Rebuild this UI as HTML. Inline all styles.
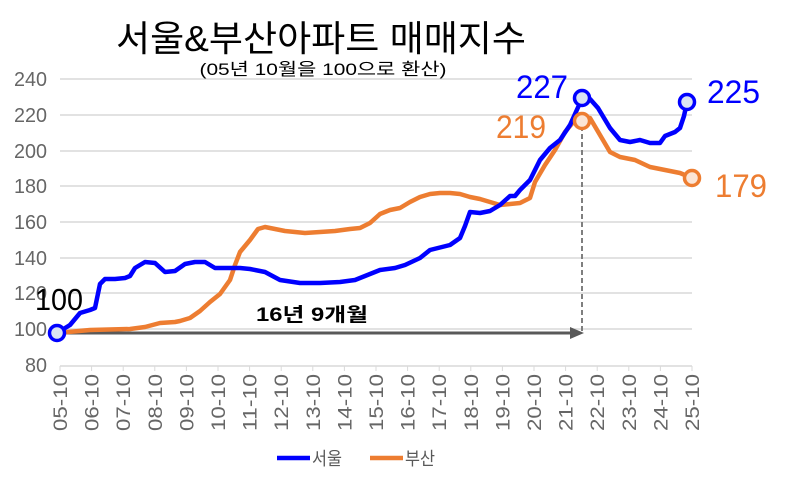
<!DOCTYPE html>
<html><head><meta charset="utf-8"><style>
html,body{margin:0;padding:0;background:#fff;}
svg{display:block;font-family:"Liberation Sans","Noto Sans CJK KR",sans-serif;}
</style></head><body>
<svg width="809" height="484" viewBox="0 0 809 484" xmlns="http://www.w3.org/2000/svg">
<g stroke="#d9d9d9" stroke-width="1.5">
<line x1="60" y1="79" x2="692" y2="79"/>
<line x1="60" y1="115" x2="692" y2="115"/>
<line x1="60" y1="151" x2="692" y2="151"/>
<line x1="60" y1="186" x2="692" y2="186"/>
<line x1="60" y1="222" x2="692" y2="222"/>
<line x1="60" y1="258" x2="692" y2="258"/>
<line x1="60" y1="293" x2="692" y2="293"/>
<line x1="60" y1="329" x2="692" y2="329"/>
<line x1="60" y1="366" x2="692" y2="366"/>
</g>
<g stroke="#d9d9d9" stroke-width="1">
<path d="M60 366v5M91.6 366v5M123.2 366v5M154.8 366v5M186.4 366v5M218 366v5M249.6 366v5M281.2 366v5M312.8 366v5M344.4 366v5M376 366v5M407.6 366v5M439.2 366v5M470.8 366v5M502.4 366v5M534 366v5M565.6 366v5M597.2 366v5M628.8 366v5M660.4 366v5M692 366v5"/>
</g>
<g fill="#666" font-size="20" text-anchor="end">
<text x="47" y="86" textLength="33" lengthAdjust="spacingAndGlyphs">240</text>
<text x="47" y="122" textLength="33" lengthAdjust="spacingAndGlyphs">220</text>
<text x="47" y="158" textLength="33" lengthAdjust="spacingAndGlyphs">200</text>
<text x="47" y="193" textLength="33" lengthAdjust="spacingAndGlyphs">180</text>
<text x="47" y="229" textLength="33" lengthAdjust="spacingAndGlyphs">160</text>
<text x="47" y="265" textLength="33" lengthAdjust="spacingAndGlyphs">140</text>
<text x="47" y="300" textLength="33" lengthAdjust="spacingAndGlyphs">120</text>
<text x="47" y="336" textLength="33" lengthAdjust="spacingAndGlyphs">100</text>
<text x="47" y="372" textLength="22" lengthAdjust="spacingAndGlyphs">80</text>
</g>
<g fill="#666" font-size="19" text-anchor="end">
<text transform="translate(67,374) rotate(-90)" textLength="57" lengthAdjust="spacingAndGlyphs">05-10</text>
<text transform="translate(98.6,374) rotate(-90)" textLength="57" lengthAdjust="spacingAndGlyphs">06-10</text>
<text transform="translate(130.2,374) rotate(-90)" textLength="57" lengthAdjust="spacingAndGlyphs">07-10</text>
<text transform="translate(161.8,374) rotate(-90)" textLength="57" lengthAdjust="spacingAndGlyphs">08-10</text>
<text transform="translate(193.4,374) rotate(-90)" textLength="57" lengthAdjust="spacingAndGlyphs">09-10</text>
<text transform="translate(225,374) rotate(-90)" textLength="57" lengthAdjust="spacingAndGlyphs">10-10</text>
<text transform="translate(256.6,374) rotate(-90)" textLength="57" lengthAdjust="spacingAndGlyphs">11-10</text>
<text transform="translate(288.2,374) rotate(-90)" textLength="57" lengthAdjust="spacingAndGlyphs">12-10</text>
<text transform="translate(319.8,374) rotate(-90)" textLength="57" lengthAdjust="spacingAndGlyphs">13-10</text>
<text transform="translate(351.4,374) rotate(-90)" textLength="57" lengthAdjust="spacingAndGlyphs">14-10</text>
<text transform="translate(383,374) rotate(-90)" textLength="57" lengthAdjust="spacingAndGlyphs">15-10</text>
<text transform="translate(414.6,374) rotate(-90)" textLength="57" lengthAdjust="spacingAndGlyphs">16-10</text>
<text transform="translate(446.2,374) rotate(-90)" textLength="57" lengthAdjust="spacingAndGlyphs">17-10</text>
<text transform="translate(477.8,374) rotate(-90)" textLength="57" lengthAdjust="spacingAndGlyphs">18-10</text>
<text transform="translate(509.4,374) rotate(-90)" textLength="57" lengthAdjust="spacingAndGlyphs">19-10</text>
<text transform="translate(541,374) rotate(-90)" textLength="57" lengthAdjust="spacingAndGlyphs">20-10</text>
<text transform="translate(572.6,374) rotate(-90)" textLength="57" lengthAdjust="spacingAndGlyphs">21-10</text>
<text transform="translate(604.2,374) rotate(-90)" textLength="57" lengthAdjust="spacingAndGlyphs">22-10</text>
<text transform="translate(635.8,374) rotate(-90)" textLength="57" lengthAdjust="spacingAndGlyphs">23-10</text>
<text transform="translate(667.4,374) rotate(-90)" textLength="57" lengthAdjust="spacingAndGlyphs">24-10</text>
<text transform="translate(699,374) rotate(-90)" textLength="57" lengthAdjust="spacingAndGlyphs">25-10</text>
</g>
<line x1="57" y1="333" x2="572" y2="333" stroke="#595959" stroke-width="3"/>
<polygon points="570,327 584,333 570,339" fill="#595959"/>
<line x1="582" y1="126" x2="582" y2="333" stroke="#7f7f7f" stroke-width="2" stroke-dasharray="5,3"/>
<polyline fill="none" stroke="#ed7d31" stroke-width="4.5" stroke-linejoin="round" points="57,333 90,330 130,329 145,327 160,323 175,322 180,321 190,318 200,311 210,302 220,294 230,280 235,265 240,252 250,240 258,229 265,227 275,229 285,231 295,232 305,233 320,232 335,231 350,229 360,228 370,223 380,214 390,210 400,208 410,202 420,197 430,194 440,193 450,193 460,194 470,197 480,199 490,202 500,205 510,204 520,203 530,198 535,182 545,165 555,150 565,132 575,120 582,121 590,118 600,135 610,152 620,157 635,160 650,167 665,170 680,173 692,178"/>
<polyline fill="none" stroke="#0000ff" stroke-width="4.5" stroke-linejoin="round" points="57,333 70,325 80,313 90,310 95,308 100,284 105,279 115,279 125,278 130,276 135,268 145,262 155,263 165,272 175,271 185,264 195,262 205,262 215,268 225,268 240,268 250,269 265,272 280,280 300,283 320,283 340,282 355,280 365,276 380,270 395,268 405,265 420,258 430,250 450,245 460,238 465,226 470,212 480,213 490,211 500,205 510,196 515,196 520,190 530,180 540,160 550,148 560,140 570,125 580,103 590,99 598,108 610,128 620,140 630,142 640,140 650,143 660,143 665,136 675,132 680,128 684,116 687,102"/>
<circle cx="57" cy="333" r="7.5" fill="#dae3f3" stroke="#0000ff" stroke-width="3.5"/>
<circle cx="582" cy="98" r="7.5" fill="#dae3f3" stroke="#0000ff" stroke-width="3.5"/>
<circle cx="687" cy="102" r="7.5" fill="#dae3f3" stroke="#0000ff" stroke-width="3.5"/>
<circle cx="582" cy="121" r="7.5" fill="#fbe5d6" stroke="#ed7d31" stroke-width="3.5"/>
<circle cx="692" cy="178" r="7.5" fill="#fbe5d6" stroke="#ed7d31" stroke-width="3.5"/>
<text x="35" y="310" font-size="31" fill="#000" textLength="48" lengthAdjust="spacingAndGlyphs">100</text>
<text x="256" y="321" font-size="19" font-weight="bold" fill="#000" textLength="112" lengthAdjust="spacingAndGlyphs">16년 9개월</text>
<text x="516" y="98" font-size="32" fill="#0000ff" textLength="52" lengthAdjust="spacingAndGlyphs">227</text>
<text x="707" y="103" font-size="32" fill="#0000ff" textLength="53" lengthAdjust="spacingAndGlyphs">225</text>
<text x="496" y="138" font-size="32" fill="#ed7d31" textLength="50" lengthAdjust="spacingAndGlyphs">219</text>
<text x="715" y="197" font-size="32" fill="#ed7d31" textLength="52" lengthAdjust="spacingAndGlyphs">179</text>
<text x="321" y="51" font-size="36" fill="#000" text-anchor="middle" textLength="410" lengthAdjust="spacingAndGlyphs">서울&amp;부산아파트 매매지수</text>
<text x="323" y="75" font-size="17" fill="#000" text-anchor="middle" textLength="247" lengthAdjust="spacingAndGlyphs">(05년 10월을 100으로 환산)</text>
<line x1="277" y1="458" x2="310" y2="458" stroke="#0000ff" stroke-width="4.5"/>
<text x="312" y="465" font-size="18" fill="#595959" textLength="30" lengthAdjust="spacingAndGlyphs">서울</text>
<line x1="370" y1="458" x2="403" y2="458" stroke="#ed7d31" stroke-width="4.5"/>
<text x="405" y="465" font-size="18" fill="#595959" textLength="30" lengthAdjust="spacingAndGlyphs">부산</text>
</svg>
</body></html>
